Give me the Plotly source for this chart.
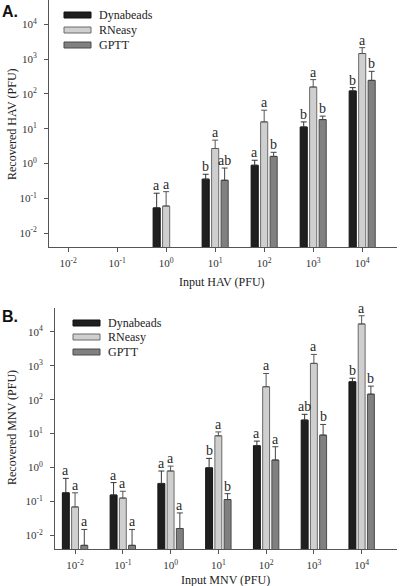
import math
import plotly.graph_objects as go

# ---------------- data ----------------
x_labels = ["10<sup>-2</sup>", "10<sup>-1</sup>", "10<sup>0</sup>", "10<sup>1</sup>",
            "10<sup>2</sup>", "10<sup>3</sup>", "10<sup>4</sup>"]
y_tick_vals = [0.01, 0.1, 1, 10, 100, 1000, 10000]
y_tick_labels = ["10<sup>-2</sup>", "10<sup>-1</sup>", "10<sup>0</sup>", "10<sup>1</sup>",
                 "10<sup>2</sup>", "10<sup>3</sup>", "10<sup>4</sup>"]
series_names = ["Dynabeads", "RNeasy", "GPTT"]

hav_dyna = [None, None, 0.053, 0.355, 0.89, 11.2, 122]
hav_dyna_err = [None, None, 0.087, 0.135, 0.35, 4.5, 30]
hav_rneasy = [None, None, 0.06, 2.7, 15.7, 158, 1450]
hav_rneasy_err = [None, None, 0.095, 2.0, 18.3, 100, 690]
hav_gptt = [None, None, None, 0.33, 1.6, 18.3, 245]
hav_gptt_err = [None, None, None, 0.41, 0.5, 4.7, 201]
hav_dyna_lbl = [None, None, "a", "b", "a", "b", "b"]
hav_rneasy_lbl = [None, None, "a", "a", "a", "a", "a"]
hav_gptt_lbl = [None, None, None, "ab", "b", "b", "b"]

mnv_dyna = [0.18, 0.155, 0.34, 0.98, 4.4, 25, 337]
mnv_dyna_err = [0.30, 0.205, 0.45, 0.88, 1.6, 12, 91]
mnv_rneasy = [0.069, 0.126, 0.79, 8.6, 240, 1170, 17000]
mnv_rneasy_err = [0.111, 0.074, 0.31, 2.6, 350, 980, 12600]
mnv_gptt = [0.0051, 0.0051, 0.016, 0.114, 1.66, 9, 145]
mnv_gptt_err = [0.0099, 0.0099, 0.03, 0.056, 2.44, 9.6, 105]
mnv_dyna_lbl = ["a", "a", "a", "b", "a", "ab", "b"]
mnv_rneasy_lbl = ["a", "a", "a", "a", "a", "a", "a"]
mnv_gptt_lbl = ["a", "a", "a", "b", "a", "b", "b"]

# ---------------- style ----------------
W, H = 400, 586
fills = ["#1f1f1f", "#cfcfcf", "#808080"]
outlines = ["#111111", "#6a6a6a", "#4a4a4a"]
err_colors = ["#333333", "#555555", "#444444"]
serif = "Liberation Serif, Times New Roman, serif"
BARGAP = 0.42
xpos = list(range(len(x_labels)))

fig = go.Figure()
annotations = []
shapes = []

panels = [
    dict(xa="x", ya="y",
         vals=[hav_dyna, hav_rneasy, hav_gptt],
         errs=[hav_dyna_err, hav_rneasy_err, hav_gptt_err],
         lbls=[hav_dyna_lbl, hav_rneasy_lbl, hav_gptt_lbl]),
    dict(xa="x2", ya="y2",
         vals=[mnv_dyna, mnv_rneasy, mnv_gptt],
         errs=[mnv_dyna_err, mnv_rneasy_err, mnv_gptt_err],
         lbls=[mnv_dyna_lbl, mnv_rneasy_lbl, mnv_gptt_lbl]),
]

slot = (1 - BARGAP) / 3
for p in panels:
    for k in range(3):
        vals, errs, lbls = p["vals"][k], p["errs"][k], p["lbls"][k]
        fig.add_trace(go.Bar(
            x=xpos, y=vals, name=series_names[k], showlegend=False,
            xaxis=p["xa"], yaxis=p["ya"],
            marker=dict(color=fills[k], line=dict(color=outlines[k], width=1)),
            error_y=dict(type="data", symmetric=False,
                         array=[e if e is not None else 0 for e in errs],
                         arrayminus=[0] * len(errs),
                         color=err_colors[k], thickness=1, width=3),
        ))
        for i in xpos:
            if vals[i] is None or lbls[i] is None:
                continue
            annotations.append(dict(
                x=i + (k - 1) * slot, y=math.log10(vals[i] + errs[i]),
                xref=p["xa"], yref=p["ya"], text=lbls[i], showarrow=False,
                yanchor="bottom", xanchor="center", yshift=-2,
                font=dict(family=serif, size=14, color="#2a2a2a")))

def px_x(v):
    return v / W

def px_y(v):
    return 1 - v / H

# custom legends (wide swatches like the reference)
legend_specs = [(64, 91, 97, [15, 30, 45]), (73, 100, 106, [323, 337, 352])]
for x0, x1, xt, rows in legend_specs:
    for k, yc in enumerate(rows):
        shapes.append(dict(type="rect", xref="paper", yref="paper",
                           x0=px_x(x0), x1=px_x(x1), y0=px_y(yc + 3), y1=px_y(yc - 3),
                           fillcolor=fills[k], line=dict(color=outlines[k], width=1)))
        annotations.append(dict(x=px_x(xt), y=px_y(yc), xref="paper", yref="paper",
                                text=series_names[k], showarrow=False,
                                xanchor="left", yanchor="middle",
                                font=dict(family=serif, size=12, color="#222222")))

# panel letters
for txt, yc in [("A.", 12), ("B.", 316)]:
    annotations.append(dict(x=0, y=px_y(yc), xref="paper", yref="paper", text="<b>%s</b>" % txt,
                            showarrow=False, xanchor="left", yanchor="middle",
                            font=dict(family="Liberation Sans, Arial, sans-serif", size=16,
                                      color="#111111")))

# axis titles
axis_titles = [
    ("Recovered HAV (PFU)", 12, 124, -90),
    ("Input HAV (PFU)", 222, 282, 0),
    ("Recovered MNV (PFU)", 12, 428, -90),
    ("Input MNV (PFU)", 225, 580, 0),
]
for txt, xc, yc, ang in axis_titles:
    annotations.append(dict(x=px_x(xc), y=px_y(yc), xref="paper", yref="paper", text=txt,
                            showarrow=False, xanchor="center", yanchor="middle", textangle=ang,
                            font=dict(family=serif, size=12, color="#222222")))

tickfont = dict(family=serif, size=11, color="#333333")
common_x = dict(tickmode="array", tickvals=xpos, ticktext=x_labels, showline=True,
                linecolor="#555555", linewidth=1, ticks="outside", ticklen=4,
                tickcolor="#555555", showgrid=False, zeroline=False, tickfont=tickfont,
                ticklabelstandoff=2)
common_y = dict(type="log", range=[-2.4, 4.7], tickmode="array", tickvals=y_tick_vals,
                ticktext=y_tick_labels, showline=True, linecolor="#555555", linewidth=1,
                ticks="outside", ticklen=4, tickcolor="#555555", showgrid=False,
                zeroline=False, tickfont=tickfont, ticklabelstandoff=5)

fig.update_layout(
    width=W, height=H, margin=dict(l=0, r=0, t=0, b=0),
    paper_bgcolor="white", plot_bgcolor="white",
    barmode="group", bargap=BARGAP, bargroupgap=0.25,
    xaxis=dict(domain=[49 / W, 397 / W], range=[-0.39, 6.71], anchor="y", **common_x),
    yaxis=dict(domain=[px_y(247), 1.0], anchor="x", **common_y),
    xaxis2=dict(domain=[55 / W, 397 / W], range=[-0.42, 6.74], anchor="y2", **common_x),
    yaxis2=dict(domain=[px_y(549), px_y(308)], anchor="x2", **common_y),
    annotations=annotations, shapes=shapes, showlegend=False,
)

fig.write_html("out.html", config={"displayModeBar": False},
               post_script="document.body.style.margin='0';document.body.style.overflow='hidden';")
